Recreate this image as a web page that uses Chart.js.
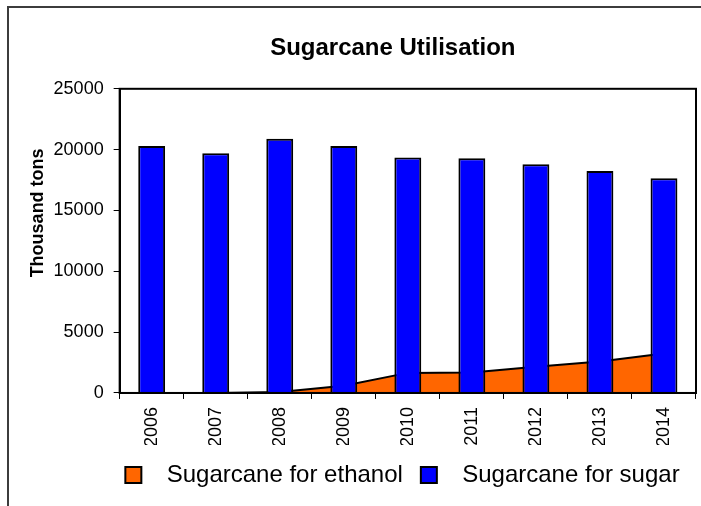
<!DOCTYPE html>
<html>
<head>
<meta charset="utf-8">
<script src="https://cdn.jsdelivr.net/npm/chart.js@4.4.0/dist/chart.umd.min.js"></script>
<style>
html,body{margin:0;padding:0;background:#fff;}
#wrap{width:701px;height:506px;position:relative;overflow:hidden;}
</style>
</head>
<body>
<div id="wrap"><canvas id="c" width="701" height="506"></canvas></div>
<script>
const categories = ['2006','2007','2008','2009','2010','2011','2012','2013','2014'];
const sugarcaneForEthanol = [0, 0, 80, 600, 1650, 1680, 2150, 2580, 3240];
const sugarcaneForSugar = [20300, 19700, 20900, 20300, 19350, 19300, 18800, 18250, 17650];
const yTicks = [0, 5000, 10000, 15000, 20000, 25000];
const chartTitle = 'Sugarcane Utilisation';
const yAxisTitle = 'Thousand tons';

Chart.defaults.font.family = '"Liberation Sans", Arial, sans-serif';
Chart.defaults.color = '#000';

const framePlugin = {
  id: 'frame',
  beforeDraw(chart) {
    const ctx = chart.ctx;
    ctx.save();
    ctx.fillStyle = '#fff';
    ctx.fillRect(0, 0, chart.width, chart.height);
    ctx.strokeStyle = '#3c3c3c';
    ctx.lineWidth = 2;
    ctx.strokeRect(8, 7, 760, 560);
    ctx.restore();
    // shift the y-axis title a little upwards, as in the original
    const s = chart.scales.y;
    if (s && !s._titlePatched) {
      const orig = s.drawTitle.bind(s);
      s.drawTitle = function () {
        this.ctx.save();
        this.ctx.translate(0, -28);
        orig();
        this.ctx.restore();
      };
      s._titlePatched = true;
    }
  },
  afterDatasetsDraw(chart) {
    const a = chart.chartArea, ctx = chart.ctx;
    ctx.save();
    ctx.strokeStyle = '#000';
    ctx.lineWidth = 2;
    ctx.strokeRect(a.left, a.top, a.right - a.left, a.bottom - a.top);
    ctx.restore();
  }
};

const nudgePlugin = {
  id: 'nudge',
  afterLayout(chart) {
    const t = chart.titleBlock;
    if (t) { t.left -= 15; t.right -= 15; }
    const l = chart.legend;
    if (l) { l.left += 50; l.right += 50; }
  }
};

new Chart(document.getElementById('c'), {
  type: 'bar',
  data: {
    labels: categories,
    datasets: [
      {
        type: 'line',
        label: 'Sugarcane for ethanol',
        data: sugarcaneForEthanol,
        borderColor: '#000',
        borderWidth: 2,
        backgroundColor: '#FF6600',
        fill: 'origin',
        pointRadius: 0,
        pointHoverRadius: 0,
        tension: 0,
        order: 2
      },
      {
        type: 'bar',
        label: 'Sugarcane for sugar',
        data: sugarcaneForSugar,
        backgroundColor: '#0000FF',
        borderColor: '#000',
        borderWidth: 2,
        barPercentage: 0.42,
        categoryPercentage: 1,
        order: 1
      }
    ]
  },
  options: {
    responsive: false,
    animation: false,
    devicePixelRatio: 1,
    layout: { padding: { left: 9, right: 5, top: 0, bottom: 9 } },
    plugins: {
      title: {
        display: true,
        text: chartTitle,
        fullSize: false,
        font: { size: 24, weight: 'bold' },
        color: '#000',
        padding: { top: 34, bottom: 26 }
      },
      legend: {
        position: 'bottom',
        fullSize: true,
        labels: {
          boxWidth: 16,
          boxHeight: 16,
          padding: 18,
          color: '#000',
          font: { size: 24 },
          generateLabels(chart) {
            const items = Chart.defaults.plugins.legend.labels.generateLabels(chart);
            items.sort((a, b) => a.datasetIndex - b.datasetIndex);
            items.forEach(i => { i.text = '  ' + i.text; });
            return items;
          }
        }
      },
      tooltip: { enabled: false }
    },
    scales: {
      x: {
        offset: true,
        grid: { display: true, drawOnChartArea: false, drawTicks: true, tickLength: 6, color: '#000', offset: true },
        border: { display: true, color: '#000', width: 2 },
        ticks: { autoSkip: false, maxRotation: 90, minRotation: 90, padding: 8, font: { size: 18 }, color: '#000' },
        afterFit(scale) { scale.height -= 10; }
      },
      y: {
        min: 0,
        max: 25000,
        afterBuildTicks(scale) { scale.ticks = yTicks.map(v => ({ value: v })); },
        grid: { display: true, drawOnChartArea: false, drawTicks: true, tickLength: 6, color: '#000' },
        border: { display: true, color: '#000', width: 2 },
        ticks: { padding: 10, font: { size: 18 }, color: '#000', callback: v => String(v) },
        title: { display: true, text: yAxisTitle, font: { size: 18, weight: 'bold' }, color: '#000', padding: { top: 18, bottom: 5 } },
        afterFit(scale) { scale.width -= 10; }
      }
    }
  },
  plugins: [framePlugin, nudgePlugin]
});
</script>
</body>
</html>
